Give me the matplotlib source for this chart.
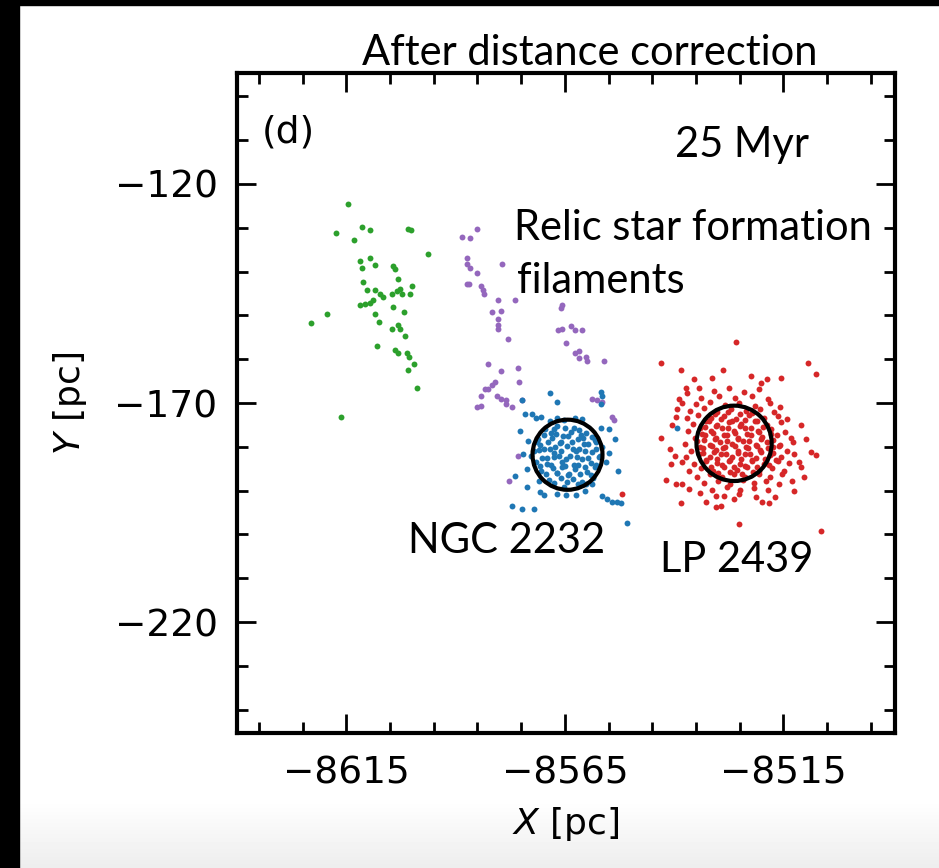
import numpy as np
import matplotlib
matplotlib.use('Agg')
import matplotlib.pyplot as plt
from matplotlib.patches import Circle, Rectangle
from matplotlib.ticker import FixedLocator

# ---- data (X, Y in pc) ----
green = [(-8614.7, -124.5), (-8617.4, -131.3), (-8611.5, -129.9), (-8609.6, -130.6), (-8613.3, -132.9),
         (-8601.0, -130.2), (-8600.3, -130.6), (-8596.4, -135.9), (-8611.9, -137.5), (-8611.5, -139.3),
         (-8609.6, -137.0), (-8608.5, -138.4), (-8604.4, -138.8), (-8603.9, -139.5), (-8611.2, -142.5),
         (-8603.2, -141.8), (-8600.0, -143.2), (-8600.5, -145.2), (-8610.3, -144.3), (-8608.5, -144.1),
         (-8607.4, -145.2), (-8606.7, -145.9), (-8604.6, -145.2), (-8603.5, -144.5), (-8602.8, -143.9),
         (-8602.3, -145.2), (-8611.9, -147.7), (-8610.8, -147.3), (-8609.6, -147.1), (-8609.0, -146.6),
         (-8604.4, -148.2), (-8601.9, -149.3), (-8619.5, -149.6), (-8623.1, -151.8), (-8608.5, -149.6),
         (-8607.6, -151.6), (-8604.6, -153.2), (-8603.2, -152.1), (-8602.8, -153.2), (-8601.6, -154.6),
         (-8608.0, -156.9), (-8603.9, -158.0), (-8603.2, -158.5), (-8601.2, -158.7), (-8600.7, -159.4),
         (-8599.4, -161.0), (-8601.0, -162.4), (-8598.9, -166.5), (-8616.3, -173.3)]

purple = [(-8588.6, -132.2), (-8586.6, -132.4), (-8585.2, -130.2), (-8587.5, -137.0), (-8587.3, -138.2),
          (-8586.6, -139.1), (-8579.3, -138.2), (-8585.0, -140.4), (-8587.5, -142.9), (-8587.0, -142.9),
          (-8584.3, -143.2), (-8583.8, -144.1), (-8583.4, -145.2), (-8580.4, -146.4), (-8576.5, -146.6),
          (-8581.6, -149.3), (-8579.5, -148.9), (-8580.4, -150.9), (-8580.2, -152.1), (-8580.4, -153.0),
          (-8578.1, -155.3), (-8565.8, -148.4), (-8565.6, -147.7), (-8566.5, -153.4), (-8565.6, -153.2),
          (-8563.5, -152.5), (-8562.8, -153.4), (-8561.0, -153.4), (-8564.7, -156.4), (-8562.8, -158.7),
          (-8561.7, -158.2), (-8560.1, -159.4), (-8559.9, -160.3), (-8561.7, -159.8), (-8556.0, -160.5),
          (-8582.5, -161.0), (-8579.7, -162.6), (-8575.8, -161.9), (-8581.1, -165.1), (-8581.6, -165.8),
          (-8582.7, -166.7), (-8583.2, -166.7), (-8575.6, -165.3), (-8584.1, -168.5), (-8580.6, -168.5),
          (-8579.5, -169.0), (-8578.4, -169.2), (-8577.2, -170.8), (-8578.4, -170.3), (-8574.7, -169.4),
          (-8585.2, -171.0), (-8584.1, -170.6), (-8558.7, -169.0), (-8557.6, -169.2), (-8556.4, -169.7),
          (-8554.2, -173.1), (-8553.7, -173.8), (-8575.8, -182.0), (-8577.7, -187.9)]

blue = [(-8568.5, -167.8), (-8566.9, -169.7), (-8556.7, -167.4), (-8556.4, -168.5), (-8556.7, -170.3),
        (-8574.7, -169.2), (-8572.6, -172.6), (-8571.5, -173.5), (-8570.4, -173.1), (-8574.2, -172.4),
        (-8554.8, -181.5), (-8556.7, -175.8), (-8573.6, -185.0), (-8573.6, -189.1), (-8570.8, -190.2),
        (-8569.7, -190.9), (-8566.9, -190.7), (-8562.4, -190.9), (-8560.1, -188.4), (-8558.7, -188.4),
        (-8556.4, -191.3), (-8555.3, -192.0), (-8554.2, -192.5), (-8553.0, -192.5), (-8552.1, -192.9),
        (-8577.2, -193.6), (-8574.7, -194.1), (-8572.0, -194.1), (-8550.7, -197.3), (-8539.3, -175.8),
        (-8568.5, -174.2), (-8566.9, -173.5), (-8565.1, -173.8), (-8562.8, -173.5), (-8561.2, -173.7),
        (-8575.2, -176.4), (-8553.6, -178.2), (-8552.8, -185.4), (-8576.4, -186.6), (-8555.0, -176.0)]

blue_core = [(-8569.5, -176.0), (-8566.8, -175.2), (-8563.0, -175.6), (-8560.2, -176.8), (-8558.0, -178.5),
             (-8571.2, -178.3), (-8568.0, -178.0), (-8565.4, -177.6), (-8562.1, -178.2), (-8559.6, -179.4),
             (-8572.0, -181.0), (-8569.8, -180.4), (-8567.2, -180.0), (-8564.6, -179.8), (-8561.8, -180.6),
             (-8558.9, -181.2), (-8557.0, -182.0), (-8571.6, -183.4), (-8569.0, -182.6), (-8566.4, -182.2),
             (-8563.8, -182.0), (-8561.2, -182.8), (-8559.0, -183.6), (-8570.4, -185.6), (-8567.8, -184.8),
             (-8565.0, -184.4), (-8562.6, -185.0), (-8560.0, -185.8), (-8568.6, -187.6), (-8566.0, -187.0),
             (-8563.2, -187.4), (-8561.0, -188.0), (-8565.2, -189.2), (-8568.2, -176.8), (-8563.6, -176.6),
             (-8566.0, -179.0), (-8560.8, -178.0), (-8570.6, -179.6), (-8567.6, -181.4), (-8562.4, -181.0),
             (-8565.6, -183.4), (-8562.0, -184.2), (-8558.2, -184.6), (-8569.2, -184.0), (-8566.8, -186.0),
             (-8564.0, -186.2), (-8572.8, -182.2), (-8556.4, -180.0), (-8573.4, -178.6), (-8555.6, -183.4),
             (-8574.6, -181.6), (-8558.6, -187.0), (-8571.0, -187.8), (-8564.8, -191.0), (-8560.4, -190.0),
             (-8567.5, -175.9), (-8564.9, -175.6), (-8561.8, -176.2), (-8569.8, -177.4), (-8567.0, -177.1),
             (-8564.2, -177.5), (-8561.4, -177.2), (-8558.9, -177.8), (-8571.4, -179.0), (-8568.8, -178.8),
             (-8566.2, -179.2), (-8563.4, -178.9), (-8560.6, -179.3), (-8557.9, -178.9), (-8571.0, -180.8),
             (-8568.4, -180.6), (-8565.8, -180.9), (-8563.2, -180.5), (-8560.5, -180.9), (-8557.8, -180.6),
             (-8570.2, -182.6), (-8567.4, -182.3), (-8564.8, -182.7), (-8562.2, -182.4), (-8559.6, -182.6),
             (-8557.2, -182.3), (-8570.8, -184.4), (-8568.2, -184.1), (-8565.6, -184.5), (-8563.0, -184.2),
             (-8560.4, -184.6), (-8557.8, -184.1), (-8569.4, -186.3), (-8566.8, -186.0), (-8564.2, -186.4),
             (-8561.6, -186.1), (-8559.0, -186.4), (-8567.4, -188.3), (-8564.6, -188.0), (-8562.0, -188.4)]

red = [(-8525.8, -156.0), (-8543.0, -160.8), (-8538.4, -162.4), (-8509.4, -160.8), (-8507.6, -163.3),
       (-8531.3, -164.4), (-8537.3, -166.5), (-8537.0, -167.8), (-8534.3, -166.5), (-8520.1, -165.5),
       (-8518.8, -164.6), (-8515.6, -164.4), (-8538.9, -169.0), (-8538.2, -170.1), (-8539.3, -171.3),
       (-8539.5, -173.1), (-8543.0, -177.9), (-8509.9, -178.1), (-8508.7, -181.1), (-8507.6, -181.8),
       (-8511.5, -183.4), (-8511.0, -184.5), (-8540.7, -184.0), (-8538.2, -183.4), (-8541.8, -187.5),
       (-8539.5, -188.4), (-8538.2, -188.4), (-8513.1, -187.9), (-8536.6, -189.7), (-8538.4, -192.9),
       (-8532.7, -192.5), (-8530.4, -191.3), (-8529.3, -193.6), (-8526.3, -191.8), (-8519.9, -192.5),
       (-8518.3, -192.9), (-8525.2, -197.5), (-8506.4, -199.1), (-8551.9, -190.7), (-8540.5, -175.0),
       (-8541.0, -180.5), (-8539.8, -182.0), (-8511.0, -175.0), (-8510.2, -186.8), (-8512.5, -190.0),
       (-8534.0, -190.5), (-8530.5, -193.8), (-8517.0, -191.5), (-8535.5, -164.5), (-8522.5, -163.8),
       (-8528.8, -162.5)]

red_core = [(-8531.0, -167.2), (-8527.4, -166.6), (-8524.1, -167.5), (-8520.6, -166.9), (-8533.8, -168.8),
            (-8529.7, -168.3), (-8526.1, -168.9), (-8522.3, -168.4), (-8518.5, -169.0), (-8535.1, -170.3),
            (-8531.9, -169.8), (-8528.3, -170.5), (-8525.1, -170.0), (-8521.5, -170.6), (-8518.1, -169.9),
            (-8515.7, -170.8), (-8536.3, -171.8), (-8533.1, -171.2), (-8530.1, -172.0), (-8527.1, -171.4),
            (-8523.5, -171.9), (-8520.3, -171.3), (-8517.1, -172.1), (-8537.1, -173.4), (-8534.5, -172.7),
            (-8531.5, -173.5), (-8528.7, -172.9), (-8525.9, -173.6), (-8522.9, -172.8), (-8519.5, -173.4),
            (-8516.3, -172.9), (-8514.1, -173.7), (-8535.7, -174.9), (-8532.7, -174.2), (-8530.1, -175.0),
            (-8527.5, -174.3), (-8524.7, -174.9), (-8521.5, -174.2), (-8518.7, -175.0), (-8515.5, -174.4),
            (-8536.9, -176.4), (-8534.1, -175.8), (-8531.5, -176.5), (-8529.1, -175.7), (-8526.3, -176.3),
            (-8523.9, -175.7), (-8520.9, -176.5), (-8517.9, -175.9), (-8514.7, -176.6), (-8535.3, -177.9),
            (-8532.9, -177.2), (-8530.5, -177.9), (-8527.9, -177.3), (-8525.5, -178.0), (-8522.5, -177.2),
            (-8519.9, -177.8), (-8516.5, -177.3), (-8513.3, -178.0), (-8537.5, -179.3), (-8534.7, -178.7),
            (-8531.7, -179.5), (-8529.5, -178.8), (-8526.7, -179.4), (-8524.3, -178.7), (-8521.3, -179.5),
            (-8518.7, -178.9), (-8515.9, -179.6), (-8512.9, -178.8), (-8536.1, -180.9), (-8533.3, -180.2),
            (-8530.5, -180.8), (-8528.3, -180.1), (-8525.5, -180.9), (-8523.1, -180.3), (-8520.3, -180.8),
            (-8517.5, -180.1), (-8514.3, -180.9), (-8537.3, -182.3), (-8534.3, -181.7), (-8531.9, -182.4),
            (-8529.3, -181.6), (-8526.7, -182.3), (-8523.9, -181.7), (-8521.3, -182.5), (-8518.1, -181.8),
            (-8515.5, -182.4), (-8512.7, -181.7), (-8535.5, -183.9), (-8532.7, -183.2), (-8530.1, -183.8),
            (-8527.3, -183.1), (-8524.9, -183.9), (-8522.1, -183.2), (-8519.5, -183.9), (-8516.3, -183.2),
            (-8513.7, -183.8), (-8536.7, -185.4), (-8533.9, -184.8), (-8531.1, -185.5), (-8528.7, -184.7),
            (-8525.7, -185.3), (-8523.3, -184.6), (-8520.5, -185.4), (-8517.7, -184.8), (-8514.9, -185.5),
            (-8534.7, -186.9), (-8531.7, -186.2), (-8529.1, -186.8), (-8526.3, -186.1), (-8523.7, -186.9),
            (-8520.7, -186.3), (-8518.1, -186.9), (-8515.3, -186.2), (-8533.1, -188.3), (-8529.9, -187.7),
            (-8527.3, -188.4), (-8524.3, -187.6), (-8521.7, -188.3), (-8518.9, -187.7), (-8516.1, -188.4),
            (-8531.3, -189.8), (-8527.9, -189.2), (-8524.9, -189.9), (-8521.7, -189.3), (-8518.5, -189.9),
            (-8528.7, -191.2), (-8525.1, -190.8), (-8521.3, -191.4),
            (-8530.6, -172.4), (-8527.8, -172.1), (-8525.0, -172.6), (-8522.2, -172.3), (-8532.1, -174.0),
            (-8529.3, -173.7), (-8526.7, -174.2), (-8523.9, -173.8), (-8521.1, -174.1), (-8533.0, -175.5),
            (-8530.4, -175.2), (-8527.6, -175.7), (-8525.0, -175.3), (-8522.4, -175.6), (-8519.6, -175.4),
            (-8533.7, -177.0), (-8531.1, -176.8), (-8528.5, -177.2), (-8526.0, -176.9), (-8523.3, -177.1),
            (-8520.5, -176.7), (-8517.9, -177.0), (-8533.2, -178.5), (-8530.6, -178.2), (-8528.0, -178.6),
            (-8525.4, -178.3), (-8522.8, -178.7), (-8520.2, -178.2), (-8517.4, -178.5), (-8534.1, -180.0),
            (-8531.3, -179.8), (-8528.8, -180.2), (-8526.2, -179.9), (-8523.6, -180.1), (-8521.0, -179.7),
            (-8518.6, -180.2), (-8516.0, -179.9), (-8533.5, -181.5), (-8530.9, -181.2), (-8528.1, -181.7),
            (-8525.5, -181.3), (-8522.7, -181.6), (-8520.1, -181.2), (-8517.3, -181.5), (-8532.8, -183.0),
            (-8530.2, -182.7), (-8527.5, -183.2), (-8524.8, -182.8), (-8522.1, -183.1), (-8519.3, -182.7),
            (-8516.8, -183.0), (-8531.6, -184.5), (-8529.0, -184.2), (-8526.4, -184.6), (-8523.8, -184.3),
            (-8521.0, -184.6), (-8518.4, -184.2), (-8529.9, -186.0), (-8527.3, -185.7), (-8524.6, -186.1),
            (-8522.0, -185.8)]

# cluster circles: centre x, centre y, radius
ngc2232 = (-8564.4, -181.8, 8.0)
lp2439 = (-8526.3, -179.2, 8.6)

x_major = [-8615, -8565, -8515]
y_major = [-120, -170, -220]

# ---- figure ----
fig = plt.figure(figsize=(9.39, 8.68), dpi=100)

# light grey fade at the bottom + black screenshot border
bg = fig.add_axes([0, 0, 1, 1], zorder=-10)
fade = np.ones((868, 1))
fade[800:, 0] = np.linspace(1.0, 0.93, 68)
bg.imshow(fade, cmap='gray', vmin=0, vmax=1, aspect='auto', extent=(0, 1, 0, 1))
bg.axis('off')
fig.patches.append(Rectangle((0, 0), 19 / 939, 1, transform=fig.transFigure, color='black', zorder=5))
fig.patches.append(Rectangle((0, 1 - 5 / 868), 1, 5 / 868, transform=fig.transFigure, color='black', zorder=5))

ax = fig.add_axes([0.2524, 0.1555, 0.7007, 0.7604])

ms = 18
for pts, col in [(green, '#2ca02c'), (purple, '#9467bd'), (blue, '#1f77b4'),
                 (blue_core, '#1f77b4'), (red, '#d62728'), (red_core, '#d62728')]:
    a = np.array(pts)
    ax.scatter(a[:, 0], a[:, 1], s=ms, c=col, linewidths=0)

for cx, cy, r in [ngc2232, lp2439]:
    ax.add_patch(Circle((cx, cy), r, fill=False, ec='black', lw=3, zorder=5))

ax.set_xlim(-8640, -8489.5)
ax.set_ylim(-245.3, -94.7)
ax.xaxis.set_major_locator(FixedLocator(x_major))
ax.yaxis.set_major_locator(FixedLocator(y_major))
ax.xaxis.set_minor_locator(FixedLocator(np.arange(-8635, -8489, 10)))
ax.yaxis.set_minor_locator(FixedLocator(np.arange(-240, -94, 10)))
ax.tick_params(which='both', direction='in', top=True, right=True, width=2, labelsize=27)
ax.tick_params(which='major', length=14)
ax.tick_params(which='minor', length=8)
ax.tick_params(axis='x', pad=16)
ax.tick_params(axis='y', pad=14)
for sp in ax.spines.values():
    sp.set_linewidth(3)

ax.set_xlabel('$X$ [pc]', fontsize=26, labelpad=10)
ax.set_ylabel('$Y$ [pc]', fontsize=26, labelpad=18)

ax.text(0.038, 0.895, '(d)', transform=ax.transAxes, fontsize=27, va='baseline')

note = dict(family=['Lato', 'DejaVu Sans'], fontsize=30, color='black')
ax.text(0.767, 0.873, '25 Myr', transform=ax.transAxes, ha='center', va='baseline', **note)
ax.text(0.693, 0.747, 'Relic star formation', transform=ax.transAxes, ha='center', va='baseline', **note)
ax.text(0.553, 0.667, 'filaments', transform=ax.transAxes, ha='center', va='baseline', **note)
ax.text(0.409, 0.273, 'NGC 2232', transform=ax.transAxes, ha='center', va='baseline', **note)
ax.text(0.760, 0.244, 'LP 2439', transform=ax.transAxes, ha='center', va='baseline', **note)
fig.text(0.628, 0.925, 'After distance correction', ha='center', va='baseline', **note)

fig.savefig('out.png', dpi=100)
